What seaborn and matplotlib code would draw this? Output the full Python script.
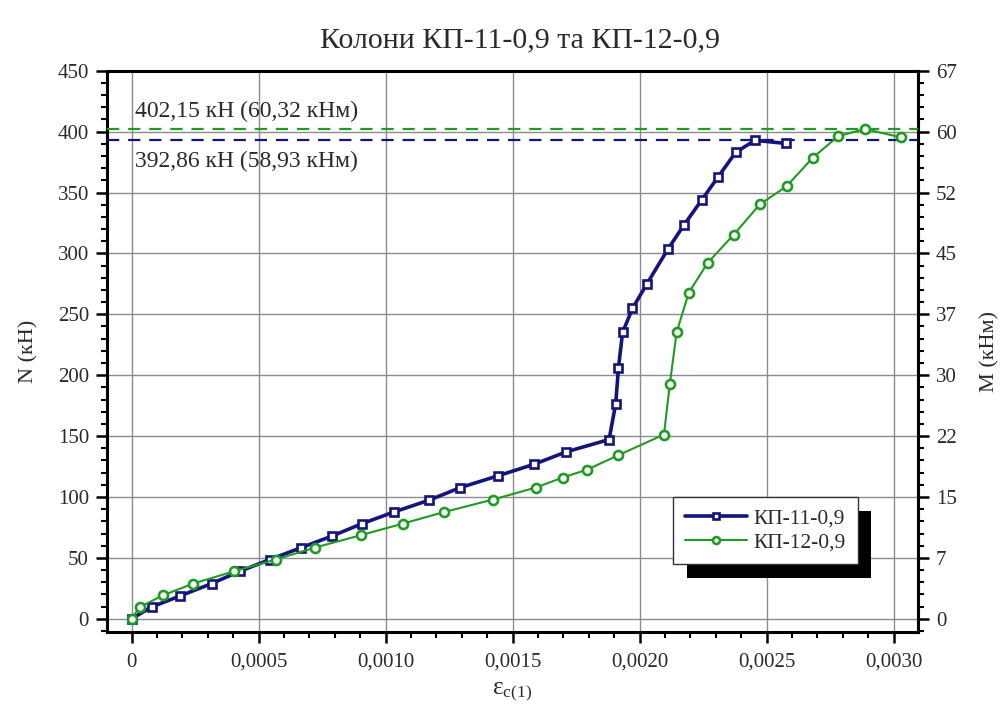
import numpy as np
import pandas as pd
import matplotlib
matplotlib.use("Agg")
import matplotlib.pyplot as plt
from matplotlib.patches import Rectangle
from matplotlib.ticker import MultipleLocator, FixedLocator
import seaborn as sns

# Column КП-11-0,9: strain and axial force N, kN
strain_11 = [0, 0.000079, 0.000190, 0.000315, 0.000426, 0.000544, 0.000669, 0.000790,
             0.000908, 0.001033, 0.001170, 0.001295, 0.001441, 0.001585, 0.001710,
             0.001880, 0.001906, 0.001917, 0.001933, 0.001972, 0.002028, 0.002113,
             0.002176, 0.002244, 0.002309, 0.002378, 0.002454, 0.002576]
force_11 = [0, 9.7, 18.7, 28.9, 39.0, 48.6, 58.5, 68.0, 78.2, 87.7, 97.3, 107.8, 117.3,
            126.9, 137.0, 147.2, 176.7, 206.3, 235.1, 254.8, 274.7, 304.0, 323.7, 343.7,
            362.8, 382.9, 392.86, 390.3]

# Column КП-12-0,9
strain_12 = [0, 0.000033, 0.000124, 0.000243, 0.000403, 0.000567, 0.000722, 0.000902,
             0.001069, 0.001231, 0.001423, 0.001592, 0.001697, 0.001794, 0.001916,
             0.002096, 0.002119, 0.002146, 0.002194, 0.002268, 0.002371, 0.002473,
             0.002579, 0.002681, 0.002782, 0.002887, 0.003031]
force_12 = [0, 9.7, 19.3, 28.9, 39.0, 48.6, 58.5, 68.6, 78.2, 87.7, 97.9, 107.8, 116.0,
            122.5, 134.3, 151.3, 192.6, 235.5, 267.9, 292.2, 315.5, 340.2, 355.2, 378.4,
            396.3, 402.15, 395.2]

series_names = ["КП-11-0,9", "КП-12-0,9"]
ultimate_force = [392.86, 402.15]
ultimate_moment = [58.93, 60.32]

x_ticks = [0, 0.0005, 0.0010, 0.0015, 0.0020, 0.0025, 0.0030]
x_tick_labels = ["0", "0,0005", "0,0010", "0,0015", "0,0020", "0,0025", "0,0030"]
n_ticks = [0, 50, 100, 150, 200, 250, 300, 350, 400, 450]
m_tick_labels = ["0", "7", "15", "22", "30", "37", "45", "52", "60", "67"]
moment_arm = 0.15  # M = N * e, e = 0.15 m

sns.set_theme(style="ticks")
plt.rcParams["font.family"] = ["Liberation Serif", "DejaVu Serif"]
plt.rcParams["mathtext.fontset"] = "custom"
plt.rcParams["mathtext.rm"] = "Liberation Serif"
plt.rcParams["mathtext.it"] = "Liberation Serif:italic"

TXT = "#2a2a2a"
NAVY = "#14147a"
GREEN = "#1f9a22"

fig = plt.figure(figsize=(10, 7.13), dpi=100)
ax = fig.add_axes([0.107, 0.114, 0.811, 0.7868])

df = pd.concat([
    pd.DataFrame({"strain": strain_11, "N": force_11, "col": series_names[0]}),
    pd.DataFrame({"strain": strain_12, "N": force_12, "col": series_names[1]}),
])

sns.lineplot(data=df[df.col == series_names[0]], x="strain", y="N", ax=ax,
             color=NAVY, lw=2.6, marker="s", markersize=5.2, markeredgewidth=1.9,
             markerfacecolor="white", markeredgecolor=NAVY, sort=False,
             estimator=None, label=series_names[0], zorder=4)
sns.lineplot(data=df[df.col == series_names[1]], x="strain", y="N", ax=ax,
             color=GREEN, lw=1.5, marker="o", markersize=6.5, markeredgewidth=1.9,
             markerfacecolor="white", markeredgecolor=GREEN, sort=False,
             estimator=None, label=series_names[1], zorder=5)

# Ultimate load levels
ax.axhline(ultimate_force[1], color=GREEN, lw=1.6, ls=(0, (5.5, 4)), zorder=3)
ax.axhline(ultimate_force[0], color=NAVY, lw=1.6, ls=(0, (5.5, 4)), zorder=3)

def fmt_num(v):
    return f"{v:.2f}".replace(".", ",")

ax.text(0.000012, ultimate_force[1] + 10,
        f"{fmt_num(ultimate_force[1])} кН ({fmt_num(ultimate_moment[1])} кНм)",
        fontsize=17, color=TXT, ha="left", va="baseline")
ax.text(0.000012, ultimate_force[0] - 22,
        f"{fmt_num(ultimate_force[0])} кН ({fmt_num(ultimate_moment[0])} кНм)",
        fontsize=17, color=TXT, ha="left", va="baseline")

ax.set_xlim(-0.0000965, 0.003096)
ax.set_ylim(-10.6, 450)
ax.xaxis.set_major_locator(FixedLocator(x_ticks))
ax.set_xticklabels(x_tick_labels)
ax.xaxis.set_minor_locator(MultipleLocator(0.0001))
ax.yaxis.set_major_locator(FixedLocator(n_ticks))
ax.yaxis.set_minor_locator(MultipleLocator(10))

ax.grid(True, which="major", color="#8c8c8c", lw=1.0)
for s in ax.spines.values():
    s.set_visible(True)
    s.set_linewidth(2.2)
    s.set_color("black")

ax.tick_params(axis="both", which="major", direction="out", length=8, width=1.8,
               color="black", labelsize=15, labelcolor=TXT, pad=5)
ax.tick_params(axis="both", which="minor", direction="out", length=4.5, width=1.5,
               color="black")
ax.tick_params(axis="x", which="major", pad=7)

# Bending moment scale on the right
sec = ax.secondary_yaxis("right", functions=(lambda n: n * moment_arm,
                                             lambda m: m / moment_arm))
sec.yaxis.set_major_locator(FixedLocator([t * moment_arm for t in n_ticks]))
sec.set_yticklabels(m_tick_labels)
sec.yaxis.set_minor_locator(MultipleLocator(10 * moment_arm))
sec.spines["right"].set_linewidth(2.2)
sec.tick_params(axis="y", which="major", direction="out", length=8, width=1.8,
                color="black", labelsize=15, labelcolor=TXT, pad=5)
sec.tick_params(axis="y", which="minor", direction="out", length=4.5, width=1.5,
                color="black")
sec.set_ylabel("M (кНм)", fontsize=16, color=TXT, labelpad=17)

ax.set_xlabel("ε$_{\\mathrm{c(1)}}$", fontsize=18, color=TXT, labelpad=6)
ax.set_ylabel("N (кН)", fontsize=16, color=TXT, labelpad=14)
fig.suptitle("Колони КП-11-0,9 та КП-12-0,9", fontsize=21.5, color=TXT,
             x=0.52, y=0.962)

leg = ax.legend(loc="upper left", bbox_to_anchor=(0.698, 0.240), fontsize=15.5,
                frameon=True, fancybox=False, shadow=False, borderaxespad=0,
                handlelength=2.9, handletextpad=0.3, borderpad=0.55,
                labelspacing=0.15, labelcolor=TXT)
leg.get_frame().set_edgecolor("#333333")
leg.get_frame().set_linewidth(1.0)
leg.get_frame().set_alpha(1)
leg.set_zorder(10)
for h in leg.legend_handles:
    h.set_markersize(5)

# Solid drop shadow behind the legend box
fig.canvas.draw()
bb = leg.get_window_extent()
shadow = Rectangle((bb.x0 + 13.5, bb.y0 - 13.5), bb.width, bb.height,
                   transform=None, facecolor="black", edgecolor="none", zorder=9)
ax.add_artist(shadow)

fig.savefig("out.png", dpi=100)
